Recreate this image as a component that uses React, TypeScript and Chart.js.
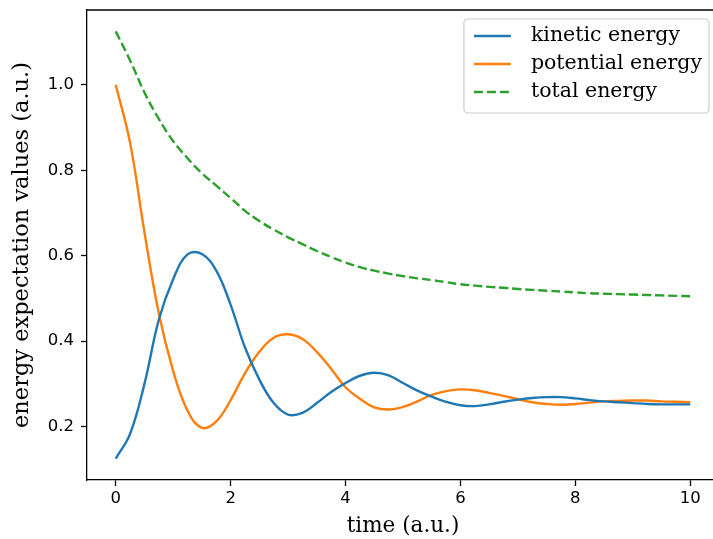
import React, { useEffect, useRef } from 'react';
import { Chart, registerables } from 'chart.js';

Chart.register(...registerables);

const times = [0, 0.25, 0.5, 0.75, 1, 1.25, 1.5, 1.75, 2, 2.25, 2.5, 2.75, 3, 3.25, 3.5, 3.75, 4, 4.25, 4.5, 4.75, 5,
  5.25, 5.5, 5.75, 6, 6.25, 6.5, 6.75, 7, 7.25, 7.5, 7.75, 8, 8.25, 8.5, 8.75, 9, 9.25, 9.5, 9.75, 10];

const kinetic = [0.125, 0.183, 0.3, 0.45, 0.545, 0.603, 0.604, 0.565, 0.485, 0.385, 0.31, 0.255, 0.228, 0.232, 0.255,
  0.281, 0.302, 0.319, 0.326, 0.32, 0.302, 0.284, 0.27, 0.258, 0.25, 0.248, 0.252, 0.258, 0.263, 0.267, 0.269,
  0.269, 0.266, 0.262, 0.259, 0.257, 0.255, 0.253, 0.252, 0.252, 0.252];

const potential = [1.0, 0.864, 0.655, 0.465, 0.33, 0.237, 0.197, 0.212, 0.262, 0.325, 0.375, 0.408, 0.416, 0.405,
  0.375, 0.335, 0.292, 0.265, 0.245, 0.24, 0.246, 0.259, 0.274, 0.283, 0.287, 0.285, 0.279, 0.272, 0.264, 0.257,
  0.253, 0.251, 0.253, 0.256, 0.259, 0.26, 0.261, 0.261, 0.259, 0.258, 0.257];

const total = [1.125, 1.057, 0.982, 0.92, 0.868, 0.828, 0.793, 0.764, 0.735, 0.705, 0.681, 0.661, 0.643, 0.627,
  0.611, 0.597, 0.584, 0.573, 0.565, 0.558, 0.552, 0.547, 0.543, 0.538, 0.533, 0.53, 0.527, 0.525, 0.522, 0.52,
  0.518, 0.516, 0.514, 0.512, 0.511, 0.51, 0.509, 0.508, 0.507, 0.506, 0.505];

const seriesLabels = ['kinetic energy', 'potential energy', 'total energy'];
const xTicks = [0, 2, 4, 6, 8, 10];
const yTicks = [0.2, 0.4, 0.6, 0.8, 1.0];

const legendPlugin = {
  id: 'boxLegend',
  afterDatasetsDraw(chart: any) {
    const ctx = chart.ctx;
    const area = chart.chartArea;
    const fontSize = 20.5;
    ctx.save();
    ctx.font = `${fontSize}px "DejaVu Serif"`;
    let maxW = 0;
    chart.data.datasets.forEach((d: any) => {
      maxW = Math.max(maxW, ctx.measureText(d.label).width);
    });
    const right = area.right - 10;
    const top = area.top + 9;
    const w = 67 + maxW + 7;
    const h = 94;
    const left = right - w;
    const r = 4;
    ctx.beginPath();
    ctx.moveTo(left + r, top);
    ctx.lineTo(right - r, top);
    ctx.arcTo(right, top, right, top + r, r);
    ctx.lineTo(right, top + h - r);
    ctx.arcTo(right, top + h, right - r, top + h, r);
    ctx.lineTo(left + r, top + h);
    ctx.arcTo(left, top + h, left, top + h - r, r);
    ctx.lineTo(left, top + r);
    ctx.arcTo(left, top, left + r, top, r);
    ctx.closePath();
    ctx.fillStyle = 'rgba(255,255,255,0.8)';
    ctx.fill();
    ctx.strokeStyle = '#cccccc';
    ctx.lineWidth = 1.2;
    ctx.stroke();
    chart.data.datasets.forEach((d: any, i: number) => {
      const cy = top + 17 + i * 28;
      ctx.beginPath();
      ctx.setLineDash(d.borderDash || []);
      ctx.strokeStyle = d.borderColor;
      ctx.lineWidth = d.borderWidth;
      ctx.moveTo(left + 10, cy);
      ctx.lineTo(left + 47, cy);
      ctx.stroke();
      ctx.setLineDash([]);
      ctx.fillStyle = '#000';
      ctx.textBaseline = 'middle';
      ctx.textAlign = 'left';
      ctx.fillText(d.label, left + 67, cy);
    });
    ctx.restore();
  },
  afterDraw(chart: any) {
    const ctx = chart.ctx;
    const area = chart.chartArea;
    ctx.save();
    ctx.strokeStyle = '#000';
    ctx.lineWidth = 1.3;
    ctx.beginPath();
    ctx.moveTo(area.left, area.top);
    ctx.lineTo(area.right + 5, area.top);
    ctx.stroke();
    ctx.restore();
  },
};

export default function App() {
  const ref = useRef<HTMLCanvasElement>(null);
  useEffect(() => {
    const mk = (vals: number[]) => times.map((t, i) => ({ x: t, y: vals[i] }));
    const common = { borderWidth: 2.4, pointRadius: 0, tension: 0.4, fill: false };
    const chart = new Chart(ref.current!, {
      type: 'line',
      data: {
        datasets: [
          { label: seriesLabels[0], data: mk(kinetic), borderColor: '#1f77b4', ...common },
          { label: seriesLabels[1], data: mk(potential), borderColor: '#ff7f0e', ...common },
          { label: seriesLabels[2], data: mk(total), borderColor: '#2ca02c', ...common, borderDash: [9, 4] },
        ] as any,
      },
      options: {
        responsive: false,
        animation: false,
        devicePixelRatio: 1,
        layout: { padding: { top: 10, right: 3, left: 0, bottom: 0 } },
        plugins: { legend: { display: false }, tooltip: { enabled: false } },
        scales: {
          x: {
            type: 'linear',
            min: -0.5,
            max: 10.5,
            afterBuildTicks: (s: any) => { s.ticks = xTicks.map((v) => ({ value: v })); },
            afterFit: (s: any) => { s.height = 59; s.paddingLeft = 0; s.paddingRight = 0; },
            grid: { drawOnChartArea: false, drawTicks: true, tickLength: 6, tickColor: '#000', tickWidth: 1.3 },
            border: { display: true, color: '#000', width: 1.3 },
            ticks: { color: '#000', font: { family: 'DejaVu Sans', size: 16.5 }, padding: 3, maxRotation: 0, callback: (v: any) => String(v) },
            title: { display: true, text: 'time (a.u.)', color: '#000', font: { family: 'DejaVu Serif', size: 21.5 }, padding: { top: 0, bottom: 0 } },
          },
          y: {
            type: 'linear',
            min: 0.075,
            max: 1.175,
            afterBuildTicks: (s: any) => { s.ticks = yTicks.map((v) => ({ value: v })); },
            afterFit: (s: any) => { s.width = 87; s.paddingTop = 0; s.paddingBottom = 0; },
            grid: { drawOnChartArea: false, drawTicks: true, tickLength: 6, tickColor: '#000', tickWidth: 1.3 },
            border: { display: true, color: '#000', width: 1.3 },
            ticks: { color: '#000', font: { family: 'DejaVu Sans', size: 16.5 }, padding: 7, callback: (v: any) => Number(v).toFixed(1) },
            title: { display: true, text: 'energy expectation values (a.u.)', color: '#000', font: { family: 'DejaVu Serif', size: 22.5 }, padding: { top: 9, bottom: 0 } },
          },
        },
      } as any,
      plugins: [legendPlugin],
    });
    return () => chart.destroy();
  }, []);
  return (
    <div style={{ position: 'fixed', left: 0, top: 0, width: 713, height: 539, overflow: 'hidden', background: '#fff' }}>
      <canvas ref={ref} width={722} height={539} style={{ display: 'block' }} />
    </div>
  );
}
